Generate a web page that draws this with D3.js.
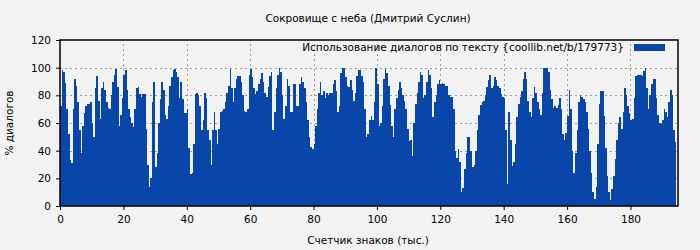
<!DOCTYPE html>
<html>
<head>
<meta charset="utf-8">
<script src="https://cdn.jsdelivr.net/npm/d3@7"></script>
<style>
  body { margin: 0; background: #f2f2f2; }
  text { font-family: "DejaVu Sans", sans-serif; fill: #000; }
</style>
</head>
<body>
<svg></svg>
<script>
// размеры
const width = 700;
const height = 250;
const margin = { top: 40, right: 22, bottom: 44, left: 60 };

// данные: шаг 0.5 тыс. знаков, значение - % диалогов
const step = 0.5;
const dialogPct = [
  72, 98, 97, 89, 70, 52, 33, 31, 70, 92, 87, 75, 55, 38, 58, 67, 72, 74, 74, 75,
  60, 50, 85, 94, 76, 63, 85, 90, 84, 75, 71, 70, 80, 90, 95, 99, 86, 58, 66, 78,
  95, 98, 84, 70, 64, 60, 57, 70, 85, 86, 81, 79, 81, 81, 56, 30, 14, 20, 75, 90,
  28, 38, 60, 77, 90, 84, 66, 63, 72, 87, 93, 98, 99, 97, 93, 78, 90, 77, 67, 67,
  70, 42, 23, 24, 45, 81, 82, 80, 72, 55, 62, 82, 78, 55, 48, 30, 55, 68, 55, 45,
  56, 68, 69, 70, 75, 82, 87, 99, 85, 75, 85, 92, 94, 94, 90, 80, 69, 68, 70, 95,
  99, 93, 85, 81, 83, 88, 92, 96, 90, 82, 79, 86, 94, 97, 55, 68, 85, 95, 99.5, 97,
  80, 63, 72, 92, 87, 68, 68, 88, 88, 72, 72, 88, 93, 90, 85, 75, 62, 50, 43, 41,
  45, 58, 70, 82, 90, 80, 83, 78, 82, 80, 82, 82, 88, 91, 83, 68, 72, 96, 99.5, 99.5,
  93, 87, 86, 91, 84, 76, 82, 94, 98.5, 98, 94, 90, 70, 50, 52, 62, 65, 62, 75, 99.5,
  88, 58, 60, 72, 92, 99, 96, 87, 73, 58, 50, 70, 78, 84, 90, 85, 80, 76, 70, 56,
  47, 48, 36, 60, 74, 82, 90, 97, 95, 78, 80, 90, 98, 95, 85, 64, 75, 80, 88, 91,
  88, 89, 88, 87, 87, 80, 79, 79, 70, 40, 35, 41, 32, 10, 13, 27, 38, 50, 50, 40,
  28, 30, 40, 55, 66, 73, 75, 76, 80, 86, 91, 95, 85, 87, 93, 91, 87, 85, 81, 79,
  78, 55, 16, 68, 48, 29, 32, 45, 64, 74, 79, 83, 92, 97, 92, 76, 68, 64, 78, 86,
  82, 75, 70, 66, 82, 99.5, 99.5, 100, 97, 84, 77, 71, 72, 71, 73, 78, 70, 52, 48, 53,
  65, 84, 70, 40, 24, 38, 55, 75, 80, 79, 77, 75, 68, 56, 40, 24, 10, 5, 14, 45,
  74, 83, 83, 65, 42, 22, 10, 4, 12, 22, 34, 48, 60, 64, 56, 68, 85, 80, 72, 67,
  62, 63, 78, 94, 95, 95, 94.7, 94, 97.5, 99.5, 85, 70, 80, 88, 92, 92, 78, 66, 60, 59,
  62, 70, 68, 64, 75, 84, 80, 55, 46
];

// подписи
const titleText = "Сокровище с неба (Дмитрий Суслин)";
const xLabel = "Счетчик знаков (тыс.)";
const yLabel = "% диалогов";
const legendText = "Использование диалогов по тексту {coollib.net/b/179773}";
const xTicks = [0, 20, 40, 60, 80, 100, 120, 140, 160, 180];
const yTicks = [0, 20, 40, 60, 80, 100, 120];

const barColor = "#0846aa";
const fontSize = 10.5;

const svg = d3.select("svg")
  .attr("width", width)
  .attr("height", height);

// шкалы
const x = d3.scaleLinear()
  .domain([0, 195])
  .range([margin.left, width - margin.right]);

const y = d3.scaleLinear()
  .domain([0, 120])
  .range([height - margin.bottom, margin.top]);

// сетка
const grid = svg.append("g")
  .attr("stroke", "#a0a0a0")
  .attr("stroke-dasharray", "2,3")
  .attr("shape-rendering", "crispEdges");

grid.selectAll(".gx")
  .data(xTicks.filter(d => d > 0))
  .enter()
  .append("line")
  .attr("x1", d => Math.round(x(d)) + 0.5)
  .attr("x2", d => Math.round(x(d)) + 0.5)
  .attr("y1", y(0))
  .attr("y2", y(120));

grid.selectAll(".gy")
  .data(yTicks.filter(d => d > 0 && d < 120))
  .enter()
  .append("line")
  .attr("x1", x(0))
  .attr("x2", x(195))
  .attr("y1", d => Math.round(y(d)) + 0.5)
  .attr("y2", d => Math.round(y(d)) + 0.5);

// столбцы (ступенчатая область)
const points = dialogPct.map((v, i) => [i * step, v]);
points.push([dialogPct.length * step, dialogPct[dialogPct.length - 1]]);

const area = d3.area()
  .curve(d3.curveStepAfter)
  .x(d => x(d[0]))
  .y0(y(0))
  .y1(d => y(d[1]));

svg.append("path")
  .datum(points)
  .attr("fill", barColor)
  .attr("shape-rendering", "crispEdges")
  .attr("d", area);

// оси
const xAxis = d3.axisBottom(x)
  .tickValues(xTicks)
  .tickSize(4)
  .tickPadding(6);

const yAxis = d3.axisLeft(y)
  .tickValues(yTicks)
  .tickSize(4)
  .tickPadding(5);

svg.append("g")
  .attr("transform", `translate(0, ${y(0)})`)
  .call(xAxis)
  .call(g => g.select(".domain").remove())
  .call(g => g.selectAll("text").attr("font-size", fontSize).attr("font-family", "DejaVu Sans"));

svg.append("g")
  .attr("transform", `translate(${x(0)}, 0)`)
  .call(yAxis)
  .call(g => g.select(".domain").remove())
  .call(g => g.selectAll("text").attr("font-size", fontSize).attr("font-family", "DejaVu Sans"));

// рамка
svg.append("rect")
  .attr("x", x(0))
  .attr("y", y(120))
  .attr("width", x(195) - x(0))
  .attr("height", y(0) - y(120))
  .attr("fill", "none")
  .attr("stroke", "#000")
  .attr("stroke-width", 1.5);

// заголовок и подписи осей
svg.append("text")
  .attr("x", 368)
  .attr("y", 22)
  .attr("text-anchor", "middle")
  .attr("font-size", fontSize)
  .text(titleText);

svg.append("text")
  .attr("x", 368)
  .attr("y", 244)
  .attr("text-anchor", "middle")
  .attr("font-size", fontSize)
  .text(xLabel);

svg.append("text")
  .attr("transform", `translate(13, ${(y(0) + y(120)) / 2}) rotate(-90)`)
  .attr("text-anchor", "middle")
  .attr("font-size", fontSize)
  .text(yLabel);

// легенда
svg.append("text")
  .attr("x", 624)
  .attr("y", 51)
  .attr("text-anchor", "end")
  .attr("font-size", fontSize)
  .text(legendText);

svg.append("rect")
  .attr("x", 634)
  .attr("y", 44)
  .attr("width", 31)
  .attr("height", 7)
  .attr("fill", barColor);
</script>
</body>
</html>
